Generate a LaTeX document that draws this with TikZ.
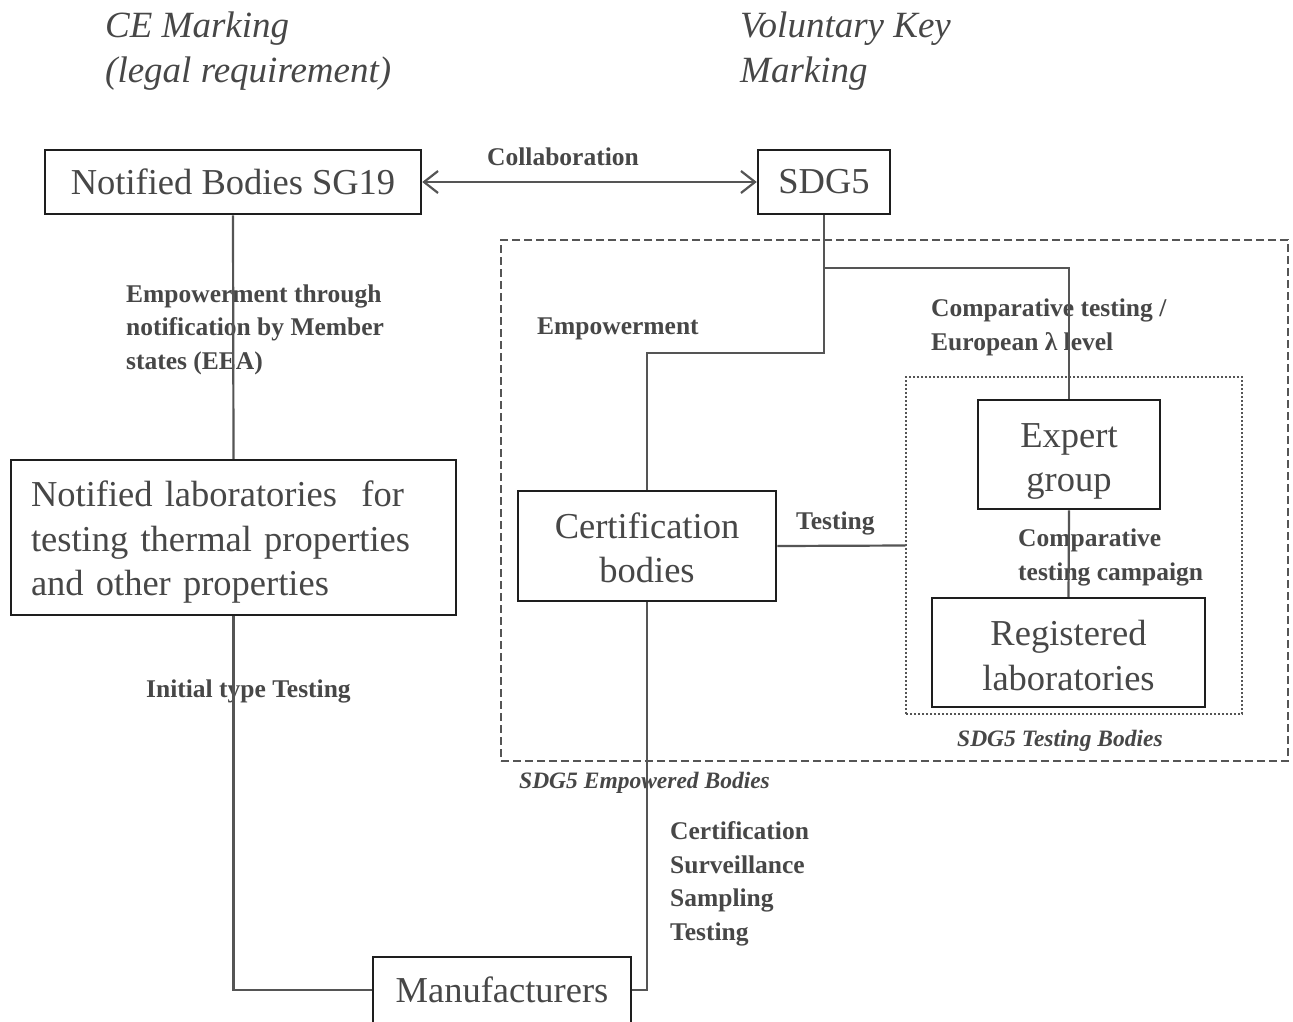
\documentclass[tikz,border=0pt]{standalone}
\usepackage{fontspec}
\setmainfont{Liberation Serif}
\usetikzlibrary{arrows.meta}
\definecolor{txt}{HTML}{474747}
\definecolor{ln}{HTML}{555555}
\definecolor{bx}{HTML}{1E1E1E}
\begin{document}
\begin{tikzpicture}[x=1pt,y=-1pt,
 box/.style={draw=bx,line width=2.5pt,text=txt,font=\fontsize{36.5}{44.5}\selectfont,align=center,inner sep=0pt},
 lbl/.style={text=txt,font=\bfseries\fontsize{25.5}{33.5}\selectfont,align=left,inner sep=0pt,anchor=base west},
 hdr/.style={text=txt,font=\itshape\fontsize{37}{45}\selectfont,align=left,inner sep=0pt,anchor=base west},
 grpcap/.style={text=txt,font=\bfseries\itshape\fontsize{23.5}{26}\selectfont,inner sep=0pt,anchor=base west},
 conn/.style={draw=ln,line width=2.2pt},
 barb/.tip={Straight Barb[length=14pt,width=22pt]},
]
\useasboundingbox[fill=white] (0,0) rectangle (1293,1021);

% group frames
\node[draw=ln,line width=1.5pt,dash pattern=on 8pt off 4pt,minimum width=787pt,minimum height=521pt,inner sep=0pt] (eb) at (894.5,500.5) {};
\node[draw=ln,line width=1.5pt,dash pattern=on 2pt off 2pt,minimum width=336pt,minimum height=337pt,inner sep=0pt] (tb) at (1074,545.5) {};
\node[grpcap] (ebcap) at (519,788) {SDG5 Empowered Bodies};
\node[grpcap] (tbcap) at (957,746) {SDG5 Testing Bodies};

% headers (anchor = baseline of last line)
\node[hdr] (h1) at (105,82) {CE Marking\\(legal requirement)};
\node[hdr] (h2) at (740,82) {Voluntary Key\\Marking};

% boxes
\node[box,minimum width=376pt,minimum height=64pt] (nb) at (233,182) {Notified Bodies SG19};
\node[box,minimum width=132pt,minimum height=64pt] (sdg) at (824,182) {SDG5};
\node[box,text width=405pt,align=left,inner xsep=20pt,minimum height=155pt] (labs) at (233.5,537.5) {\rule{0pt}{35pt}Notified laboratories\ \ for\\testing\ thermal\ properties\\and other properties};
\node[box,minimum width=258pt,minimum height=110pt] (cert) at (647,546) {\rule{0pt}{29pt}Certification\\bodies};
\node[box,minimum width=182pt,minimum height=109pt] (expert) at (1069,454.5) {\rule{0pt}{38pt}Expert\\group};
\node[box,minimum width=273pt,minimum height=109pt] (reg) at (1068.5,652.5) {\rule{0pt}{31pt}Registered\\laboratories};
\node[box,minimum width=258pt,minimum height=66pt] (manu) at (502,990) {Manufacturers};

% labels (anchor = baseline of last line)
\node[lbl] (lcol) at (487,165) {Collaboration};
\node[lbl] (lemp1) at (126,369) {Empowerment\ through\\notification by Member\\states (EEA)};
\node[lbl] (lity) at (146,697) {Initial type Testing};
\node[lbl] (lemp2) at (537,334) {Empowerment};
\node[lbl] (lcmp) at (931,350) {Comparative testing /\\European λ level};
\node[lbl] (ltst) at (796,529) {Testing};
\node[lbl] (lcmpc) at (1018,580) {Comparative\\testing campaign};
\node[lbl] (lcert) at (670,940) {Certification\\Surveillance\\Sampling\\Testing};

% connectors
\draw[conn,barb-barb] (nb.east) -- (sdg.west);
\draw[conn] (nb.south) -- (labs.north);
\draw[conn] (labs.south) |- (manu.west);
\draw[conn] (manu.east) -| (cert.south);
\coordinate (j1) at (824,353);
\coordinate (j2) at (824,268);
\draw[conn] (sdg.south) -- (j1) -| (cert.north);
\draw[conn] (j2) -| (expert.north);
\draw[conn] (expert.south) -- (reg.north);
\draw[conn] (cert.east) -- (tb.west);
\end{tikzpicture}
\end{document}
